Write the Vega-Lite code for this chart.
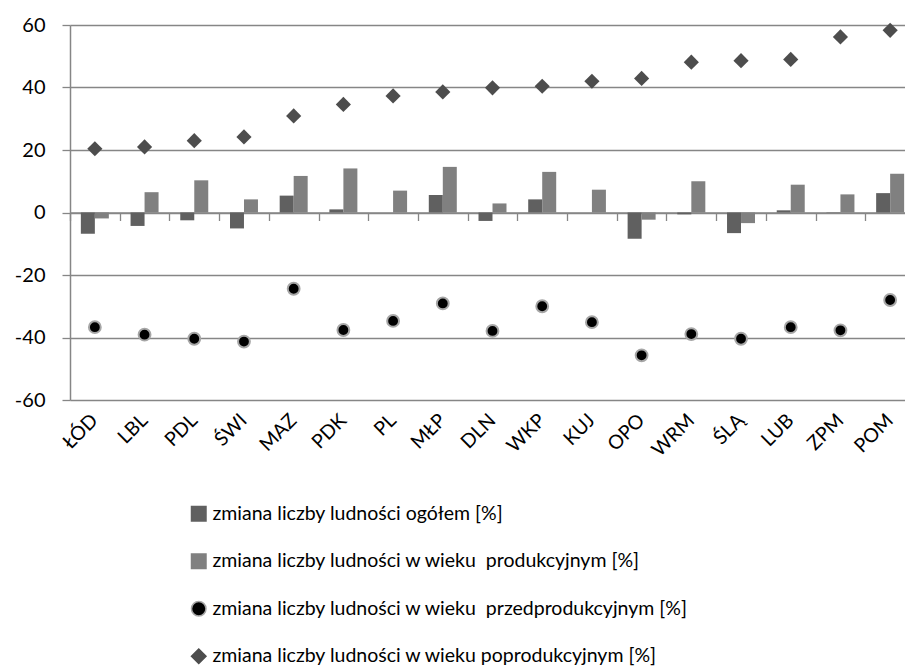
{
  "$schema": "https://vega.github.io/schema/vega-lite/v6.json",
  "width": 835,
  "height": 375,
  "autosize": {"type": "none"},
  "padding": {"left": 70, "top": 25, "right": 0, "bottom": 272},
  "background": "white",
  "config": {
    "view": {"stroke": null},
    "font": "Lato",
    "legend": {
      "orient": "none",
      "legendX": 119,
      "legendY": 479,
      "direction": "vertical",
      "labelFontSize": 19.5,
      "labelColor": "#000000",
      "labelFont": "Lato",
      "symbolSize": 210,
      "symbolStrokeWidth": 1.5,
      "rowPadding": 26.5,
      "labelOffset": 4,
      "labelLimit": 800,
      "padding": 0,
      "title": null
    }
  },
  "data": {
    "values": [
      {"kraj": "ŁÓD", "seria": "s1", "wartosc": -6.8},
      {"kraj": "ŁÓD", "seria": "s2", "wartosc": -1.9},
      {"kraj": "ŁÓD", "seria": "s3", "wartosc": -36.7},
      {"kraj": "ŁÓD", "seria": "s4", "wartosc": 20.4},
      {"kraj": "LBL", "seria": "s1", "wartosc": -4.3},
      {"kraj": "LBL", "seria": "s2", "wartosc": 6.5},
      {"kraj": "LBL", "seria": "s3", "wartosc": -39.1},
      {"kraj": "LBL", "seria": "s4", "wartosc": 21.0},
      {"kraj": "PDL", "seria": "s1", "wartosc": -2.5},
      {"kraj": "PDL", "seria": "s2", "wartosc": 10.3},
      {"kraj": "PDL", "seria": "s3", "wartosc": -40.4},
      {"kraj": "PDL", "seria": "s4", "wartosc": 23.0},
      {"kraj": "ŚWI", "seria": "s1", "wartosc": -5.1},
      {"kraj": "ŚWI", "seria": "s2", "wartosc": 4.2},
      {"kraj": "ŚWI", "seria": "s3", "wartosc": -41.3},
      {"kraj": "ŚWI", "seria": "s4", "wartosc": 24.2},
      {"kraj": "MAZ", "seria": "s1", "wartosc": 5.4},
      {"kraj": "MAZ", "seria": "s2", "wartosc": 11.7},
      {"kraj": "MAZ", "seria": "s3", "wartosc": -24.4},
      {"kraj": "MAZ", "seria": "s4", "wartosc": 30.9},
      {"kraj": "PDK", "seria": "s1", "wartosc": 1.0},
      {"kraj": "PDK", "seria": "s2", "wartosc": 14.1},
      {"kraj": "PDK", "seria": "s3", "wartosc": -37.6},
      {"kraj": "PDK", "seria": "s4", "wartosc": 34.6},
      {"kraj": "PL", "seria": "s1", "wartosc": 0.0},
      {"kraj": "PL", "seria": "s2", "wartosc": 7.0},
      {"kraj": "PL", "seria": "s3", "wartosc": -34.7},
      {"kraj": "PL", "seria": "s4", "wartosc": 37.3},
      {"kraj": "MŁP", "seria": "s1", "wartosc": 5.6},
      {"kraj": "MŁP", "seria": "s2", "wartosc": 14.6},
      {"kraj": "MŁP", "seria": "s3", "wartosc": -29.1},
      {"kraj": "MŁP", "seria": "s4", "wartosc": 38.6},
      {"kraj": "DLN", "seria": "s1", "wartosc": -2.7},
      {"kraj": "DLN", "seria": "s2", "wartosc": 2.9},
      {"kraj": "DLN", "seria": "s3", "wartosc": -37.9},
      {"kraj": "DLN", "seria": "s4", "wartosc": 39.9},
      {"kraj": "WKP", "seria": "s1", "wartosc": 4.2},
      {"kraj": "WKP", "seria": "s2", "wartosc": 13.0},
      {"kraj": "WKP", "seria": "s3", "wartosc": -30.0},
      {"kraj": "WKP", "seria": "s4", "wartosc": 40.4},
      {"kraj": "KUJ", "seria": "s1", "wartosc": 0.0},
      {"kraj": "KUJ", "seria": "s2", "wartosc": 7.3},
      {"kraj": "KUJ", "seria": "s3", "wartosc": -35.1},
      {"kraj": "KUJ", "seria": "s4", "wartosc": 42.0},
      {"kraj": "OPO", "seria": "s1", "wartosc": -8.4},
      {"kraj": "OPO", "seria": "s2", "wartosc": -2.3},
      {"kraj": "OPO", "seria": "s3", "wartosc": -45.7},
      {"kraj": "OPO", "seria": "s4", "wartosc": 42.9},
      {"kraj": "WRM", "seria": "s1", "wartosc": -0.6},
      {"kraj": "WRM", "seria": "s2", "wartosc": 10.0},
      {"kraj": "WRM", "seria": "s3", "wartosc": -38.9},
      {"kraj": "WRM", "seria": "s4", "wartosc": 48.1},
      {"kraj": "ŚLĄ", "seria": "s1", "wartosc": -6.6},
      {"kraj": "ŚLĄ", "seria": "s2", "wartosc": -3.4},
      {"kraj": "ŚLĄ", "seria": "s3", "wartosc": -40.4},
      {"kraj": "ŚLĄ", "seria": "s4", "wartosc": 48.6},
      {"kraj": "LUB", "seria": "s1", "wartosc": 0.7},
      {"kraj": "LUB", "seria": "s2", "wartosc": 8.9},
      {"kraj": "LUB", "seria": "s3", "wartosc": -36.7},
      {"kraj": "LUB", "seria": "s4", "wartosc": 49.0},
      {"kraj": "ZPM", "seria": "s1", "wartosc": 0.1},
      {"kraj": "ZPM", "seria": "s2", "wartosc": 5.8},
      {"kraj": "ZPM", "seria": "s3", "wartosc": -37.7},
      {"kraj": "ZPM", "seria": "s4", "wartosc": 56.2},
      {"kraj": "POM", "seria": "s1", "wartosc": 6.2},
      {"kraj": "POM", "seria": "s2", "wartosc": 12.4},
      {"kraj": "POM", "seria": "s3", "wartosc": -28.0},
      {"kraj": "POM", "seria": "s4", "wartosc": 58.3}
    ]
  },
  "transform": [
    {"lookup": "seria", "from": {"data": {"values": [
      {"seria": "s1", "nazwa": "zmiana liczby ludności ogółem [%]"},
      {"seria": "s2", "nazwa": "zmiana liczby ludności w wieku\u00a0 produkcyjnym [%]"},
      {"seria": "s3", "nazwa": "zmiana liczby ludności w wieku\u00a0 przedprodukcyjnym [%]"},
      {"seria": "s4", "nazwa": "zmiana liczby ludności w wieku poprodukcyjnym [%]"}
    ]}, "key": "seria", "fields": ["nazwa"]}}
  ],
  "encoding": {
    "x": {
      "field": "kraj",
      "type": "nominal",
      "sort": null,
      "scale": {"paddingInner": 0, "paddingOuter": 0, "range": [0, 845]}
    },
    "y": {
      "field": "wartosc",
      "type": "quantitative",
      "scale": {"domain": [-60, 60], "nice": false, "zero": false},
      "axis": {
        "title": null,
        "values": [-60, -40, -20, 0, 20, 40, 60],
        "labelExpr": "datum.value < 0 ? '-' + abs(datum.value) : '' + datum.value",
        "grid": true,
        "gridColor": "#868686",
        "gridWidth": 1.3,
        "domain": true,
        "domainColor": "#868686",
        "domainWidth": 1.5,
        "ticks": true,
        "tickColor": "#868686",
        "tickWidth": 1.3,
        "tickSize": 8,
        "labelFontSize": 20,
        "labelFont": "Lato",
        "labelColor": "#000000",
        "labelPadding": 17
      }
    },
    "color": {
      "field": "nazwa",
      "type": "nominal",
      "scale": {
        "domain": [
          "zmiana liczby ludności ogółem [%]",
          "zmiana liczby ludności w wieku\u00a0 produkcyjnym [%]",
          "zmiana liczby ludności w wieku\u00a0 przedprodukcyjnym [%]",
          "zmiana liczby ludności w wieku poprodukcyjnym [%]"
        ],
        "range": ["#606060", "#808080", "#000000", "#4d4d4d"]
      }
    }
  },
  "layer": [
    {
      "transform": [{"filter": {"field": "seria", "oneOf": ["s1", "s2"]}}],
      "mark": {"type": "bar"},
      "encoding": {
        "x": {
          "field": "kraj",
          "type": "nominal",
          "sort": null,
          "axis": {
            "orient": "bottom",
            "title": null,
            "domain": false,
            "ticks": false,
            "tickSize": 0,
            "grid": false,
            "labelAngle": -45,
            "labelAlign": "right",
            "labelBaseline": "middle",
            "labelFontSize": 19.5,
            "labelFont": "Lato",
            "labelColor": "#000000",
            "labelPadding": 17
          }
        },
        "xOffset": {
          "field": "seria",
          "type": "nominal",
          "scale": {"domain": ["s1", "s2"], "paddingInner": 0, "paddingOuter": 0.775}
        }
      }
    },
    {
      "transform": [{"filter": {"field": "seria", "equal": "s3"}}],
      "mark": {"type": "point", "filled": true, "size": 140, "strokeWidth": 2, "opacity": 1},
      "encoding": {
        "x": {
          "field": "kraj",
          "type": "nominal",
          "sort": null,
          "axis": {
            "orient": "top",
            "offset": -187.5,
            "title": null,
            "labels": false,
            "grid": false,
            "domain": true,
            "domainColor": "#868686",
            "domainWidth": 1.3,
            "ticks": true,
            "tickBand": "extent",
            "tickColor": "#868686",
            "tickWidth": 1.3,
            "tickSize": -8
          }
        },
        "shape": {
          "field": "nazwa",
          "type": "nominal",
          "scale": {
            "domain": [
              "zmiana liczby ludności ogółem [%]",
              "zmiana liczby ludności w wieku\u00a0 produkcyjnym [%]",
              "zmiana liczby ludności w wieku\u00a0 przedprodukcyjnym [%]",
              "zmiana liczby ludności w wieku poprodukcyjnym [%]"
            ],
            "range": ["square", "square", "circle", "diamond"]
          }
        },
        "stroke": {
          "field": "nazwa",
          "type": "nominal",
          "scale": {
            "domain": [
              "zmiana liczby ludności ogółem [%]",
              "zmiana liczby ludności w wieku\u00a0 produkcyjnym [%]",
              "zmiana liczby ludności w wieku\u00a0 przedprodukcyjnym [%]",
              "zmiana liczby ludności w wieku poprodukcyjnym [%]"
            ],
            "range": ["#606060", "#808080", "#a6a6a6", "#4d4d4d"]
          }
        }
      }
    },
    {
      "transform": [{"filter": {"field": "seria", "equal": "s4"}}],
      "mark": {"type": "point", "filled": true, "size": 230, "strokeWidth": 0, "opacity": 1},
      "encoding": {
        "x": {"field": "kraj", "type": "nominal", "sort": null, "axis": null},
        "shape": {
          "field": "nazwa",
          "type": "nominal",
          "scale": {
            "domain": [
              "zmiana liczby ludności ogółem [%]",
              "zmiana liczby ludności w wieku\u00a0 produkcyjnym [%]",
              "zmiana liczby ludności w wieku\u00a0 przedprodukcyjnym [%]",
              "zmiana liczby ludności w wieku poprodukcyjnym [%]"
            ],
            "range": ["square", "square", "circle", "diamond"]
          }
        }
      }
    }
  ],
  "resolve": {"axis": {"x": "independent"}}
}
